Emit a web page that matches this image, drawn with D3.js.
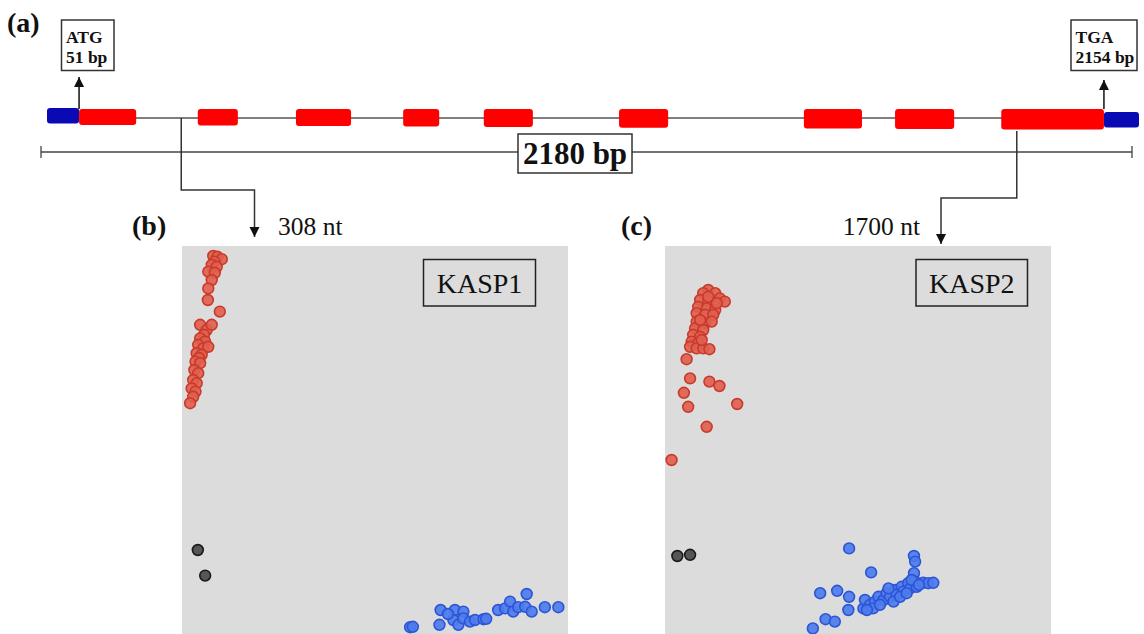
<!DOCTYPE html>
<html><head><meta charset="utf-8">
<script src="https://cdn.jsdelivr.net/npm/d3@7"></script>
<style>body{margin:0;background:#fff}svg{display:block}</style>
</head><body>
<svg id="chart" width="1144" height="634"></svg>
<script>
// ---------- data ----------
const geneLength = 2180;                       // bp
const utrs  = [[0, 64], [2110, 2180]];         // bp start/end
const exons = [[64,178],[301,381],[497,607],[711,783],[872,970],[1142,1240],[1511,1627],[1693,1811],[1905,2110]];
const codonPositions = [64, 2110];
const codonLabels = [["ATG", "51 bp"], ["TGA", "2154 bp"]];
const lengthLabel = "2180 bp";
const markerPositions = [268, 1936];
const markerLabels = ["308 nt", "1700 nt"];
const panelLetters = ["(a)", "(b)", "(c)"];
const assayNames = ["KASP1", "KASP2"];

// KASP genotype clusters (relative fluorescence, allele X / allele Y)
const kasp1Red = [[0.081,0.975],[0.092,0.973],[0.103,0.967],[0.084,0.961],[0.077,0.953],[0.090,0.948],[0.068,0.936],[0.085,0.933],[0.077,0.915],[0.068,0.894],[0.067,0.865],[0.098,0.836],[0.047,0.803],[0.064,0.790],[0.077,0.803],[0.057,0.778],[0.047,0.769],[0.060,0.761],[0.042,0.753],[0.055,0.744],[0.068,0.748],[0.038,0.732],[0.051,0.728],[0.044,0.720],[0.035,0.711],[0.047,0.707],[0.032,0.690],[0.042,0.682],[0.029,0.665],[0.038,0.657],[0.025,0.644],[0.035,0.636],[0.029,0.623],[0.021,0.607]];
const kasp1Black = [[0.041,0.240],[0.060,0.176]];
const kasp1Blue = [[0.591,0.047],[0.598,0.048],[0.670,0.090],[0.667,0.053],[0.707,0.090],[0.729,0.086],[0.703,0.065],[0.716,0.053],[0.729,0.069],[0.746,0.061],[0.759,0.065],[0.781,0.067],[0.788,0.068],[0.689,0.080],[0.819,0.090],[0.837,0.094],[0.850,0.111],[0.858,0.086],[0.871,0.097],[0.893,0.130],[0.889,0.098],[0.906,0.086],[0.940,0.097],[0.975,0.097]];
const kasp2Red = [[0.112,0.890],[0.099,0.882],[0.130,0.882],[0.142,0.869],[0.155,0.861],[0.091,0.865],[0.112,0.861],[0.086,0.848],[0.108,0.844],[0.130,0.840],[0.082,0.832],[0.104,0.828],[0.125,0.828],[0.082,0.811],[0.104,0.807],[0.121,0.811],[0.078,0.794],[0.099,0.790],[0.073,0.778],[0.091,0.773],[0.069,0.761],[0.086,0.757],[0.065,0.748],[0.082,0.744],[0.099,0.744],[0.115,0.742],[0.095,0.765],[0.091,0.815],[0.112,0.873],[0.134,0.857],[0.056,0.717],[0.065,0.669],[0.115,0.661],[0.141,0.650],[0.049,0.633],[0.060,0.598],[0.187,0.605],[0.108,0.548],[0.017,0.465]];
const kasp2Black = [[0.032,0.225],[0.065,0.228]];
const kasp2Blue = [[0.477,0.244],[0.645,0.225],[0.648,0.211],[0.534,0.184],[0.645,0.182],[0.402,0.132],[0.446,0.138],[0.477,0.123],[0.475,0.090],[0.416,0.067],[0.440,0.061],[0.383,0.044],[0.514,0.094],[0.518,0.115],[0.531,0.103],[0.544,0.111],[0.553,0.123],[0.566,0.115],[0.574,0.132],[0.583,0.123],[0.596,0.140],[0.600,0.128],[0.613,0.148],[0.617,0.136],[0.630,0.157],[0.635,0.144],[0.648,0.161],[0.652,0.148],[0.669,0.158],[0.682,0.157],[0.695,0.158],[0.539,0.094],[0.557,0.103],[0.523,0.090],[0.579,0.144],[0.592,0.111],[0.609,0.123],[0.626,0.132],[0.639,0.165],[0.658,0.153]];

// ---------- drawing ----------
const svg = d3.select("#chart");
const serif = "'Liberation Serif','Times New Roman',serif";
const ink = "#333";

const gx = d3.scaleLinear().domain([0, geneLength]).range([47, 1139]);
const bx = d3.scaleLinear().domain([0, geneLength]).range([41, 1132]);
const lineY = 118;
const topY = 109;
const hAt = x => 16 + 5 * (x - 79) / 1025;

svg.append("defs").append("marker").attr("id","ah").attr("viewBox","0 0 10 10")
  .attr("refX",10).attr("refY",5).attr("markerWidth",10).attr("markerHeight",13)
  .attr("markerUnits","userSpaceOnUse").attr("orient","auto")
  .append("path").attr("d","M0,0L10,5L0,10Z").attr("fill","#111");

// (a) label
svg.append("text").attr("x", 7).attr("y", 32).text(panelLetters[0])
  .attr("font-family", serif).attr("font-weight", "bold").attr("font-size", 28).attr("fill","#111");

// intron line
svg.append("line").attr("x1", gx(exons[0][0])).attr("x2", gx(exons[exons.length-1][1]))
  .attr("y1", lineY).attr("y2", lineY).attr("stroke", "#555").attr("stroke-width", 1.5);

// UTRs
svg.selectAll("rect.utr").data(utrs).join("rect").attr("class","utr")
  .attr("x", d => gx(d[0])).attr("width", d => gx(d[1]) - gx(d[0]))
  .attr("y", (d,i) => i === 0 ? 108 : 112).attr("height", 15.5)
  .attr("rx", 3).attr("fill", "#0a0ab4");

// exons
svg.selectAll("rect.exon").data(exons).join("rect").attr("class","exon")
  .attr("x", d => gx(d[0])).attr("width", d => gx(d[1]) - gx(d[0]))
  .attr("y", topY).attr("height", d => hAt(gx(d[0])))
  .attr("rx", 3).attr("fill", "#ff0000");

// codon arrows and boxes
const codonBoxes = [{x:61.5, w:52.5, tip:77}, {x:1071, w:66, tip:80}];
codonPositions.forEach((p, i) => {
  const x = gx(p);
  svg.append("line").attr("x1", x).attr("x2", x).attr("y1", topY).attr("y2", codonBoxes[i].tip)
    .attr("stroke", "#111").attr("stroke-width", 1.5).attr("marker-end", "url(#ah)");
  const b = codonBoxes[i];
  svg.append("rect").attr("x", b.x).attr("y", 20).attr("width", b.w).attr("height", 50.5)
    .attr("fill", "#fff").attr("stroke", ink).attr("stroke-width", 1.5);
  codonLabels[i].forEach((t, j) => {
    svg.append("text").attr("x", b.x + 4.5).attr("y", 43 + j * 19.5).text(t)
      .attr("font-family", serif).attr("font-weight", "bold").attr("font-size", 17.5).attr("fill", "#111");
  });
});

// scale bar
const sbY = 152;
svg.append("line").attr("x1", bx(0)).attr("x2", bx(geneLength)).attr("y1", sbY).attr("y2", sbY)
  .attr("stroke", "#444").attr("stroke-width", 1.3);
[0, geneLength].forEach(v => svg.append("line").attr("x1", bx(v)).attr("x2", bx(v))
  .attr("y1", sbY - 6).attr("y2", sbY + 6).attr("stroke", "#444").attr("stroke-width", 1.3));
const lblX = 575;
svg.append("rect").attr("x", lblX - 57).attr("y", 134).attr("width", 114).attr("height", 39)
  .attr("fill", "#fff").attr("stroke", ink).attr("stroke-width", 1.5);
svg.append("text").attr("x", lblX).attr("y", 164).attr("text-anchor", "middle").text(lengthLabel)
  .attr("font-family", serif).attr("font-weight", "bold").attr("font-size", 31).attr("fill", "#111");

// scatter panels
const panels = [
  {left:182, red:kasp1Red, black:kasp1Black, blue:kasp1Blue, arrowX:72.5, elbowY:190, tip:237, fromY:lineY, boxX:241.5, boxW:112},
  {left:665, red:kasp2Red, black:kasp2Black, blue:kasp2Blue, arrowX:276, elbowY:198, tip:244, fromY:131, boxX:251, boxW:111.5}
];
const pTop = 246, pW = 386, pH = 400;
const xs = d3.scaleLinear().domain([0, 1]).range([0, pW]);
const ys = d3.scaleLinear().domain([0, 1]).range([pH, 0]);

panels.forEach((P, i) => {
  const mx = gx(markerPositions[i]);
  const ax = P.left + P.arrowX;
  // connector
  svg.append("path").attr("d", `M${mx},${P.fromY}V${P.elbowY}H${ax}V${P.tip}`)
    .attr("fill", "none").attr("stroke", ink).attr("stroke-width", 1.5).attr("marker-end", "url(#ah)");
  // letter & label
  svg.append("text").attr("x", i === 0 ? 132 : 621).attr("y", 235).text(panelLetters[i + 1])
    .attr("font-family", serif).attr("font-weight", "bold").attr("font-size", 28).attr("fill", "#111");
  svg.append("text").attr("x", i === 0 ? ax + 23.5 : ax - 21).attr("y", 235)
    .attr("text-anchor", i === 0 ? "start" : "end").text(markerLabels[i])
    .attr("font-family", serif).attr("font-size", 25.5).attr("fill", "#111");

  const g = svg.append("g").attr("transform", `translate(${P.left},${pTop})`);
  g.append("rect").attr("width", pW).attr("height", pH).attr("fill", "#dcdcdc");
  g.append("rect").attr("x", P.boxX).attr("y", 13.5).attr("width", P.boxW).attr("height", 46.5)
    .attr("fill", "none").attr("stroke", "#222").attr("stroke-width", 1.5);
  g.append("text").attr("x", P.boxX + P.boxW / 2).attr("y", 46.5).attr("text-anchor", "middle")
    .text(assayNames[i]).attr("font-family", serif).attr("font-size", 28).attr("fill", "#111");

  const groups = [
    {data:P.black, fill:"#4a4a4a", stroke:"#1a1a1a"},
    {data:P.blue, fill:"#4d7ced", stroke:"#2c55d6"},
    {data:P.red, fill:"#e0604f", stroke:"#c93a2a"}
  ];
  groups.forEach(G => {
    g.selectAll(null).data(G.data).join("circle")
      .attr("cx", d => xs(d[0])).attr("cy", d => ys(d[1])).attr("r", 5.4)
      .attr("fill", G.fill).attr("stroke", G.stroke).attr("stroke-width", 1.6).attr("fill-opacity", 0.92);
  });
});
</script>
</body></html>
